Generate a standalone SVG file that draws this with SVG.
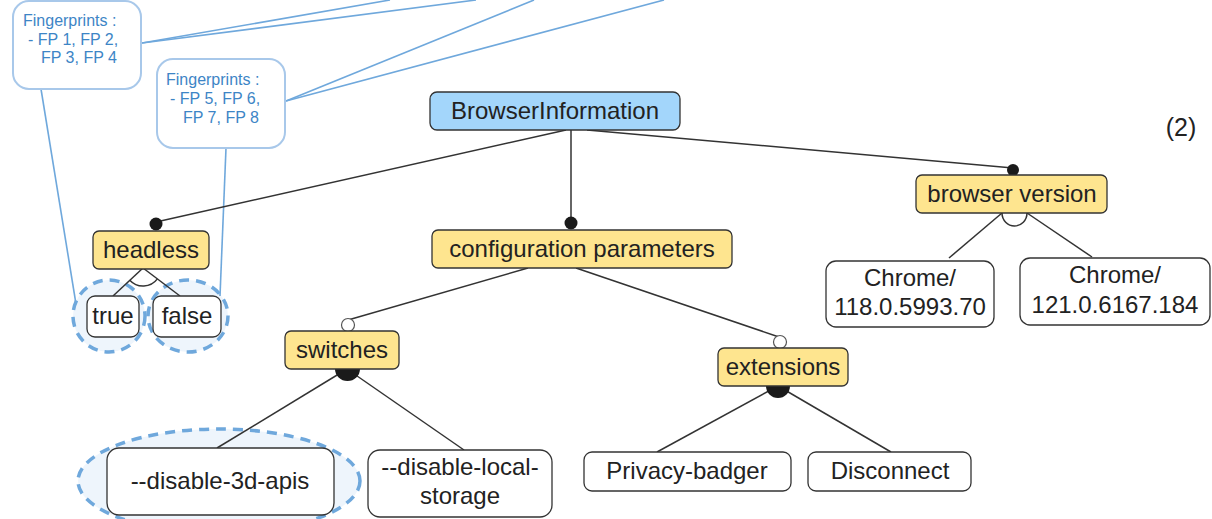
<svg xmlns="http://www.w3.org/2000/svg" width="1212" height="519" viewBox="0 0 1212 519">
  <style>
    .lbl { font-family: "Liberation Sans", Arial, sans-serif; font-size: 24px; fill: #222; text-anchor: middle; }
    .note { font-family: "Liberation Sans", Arial, sans-serif; font-size: 16px; fill: #3d85c6; }
    .feat { fill: #fee58f; stroke: #333; stroke-width: 1.3; }
    .root { fill: #a3d6fb; stroke: #333; stroke-width: 1.3; }
    .leaf { fill: #fff; stroke: #333; stroke-width: 1.3; }
    .callout { fill: #fff; stroke: #a8c8ea; stroke-width: 2; }
    .mark { fill: #eef5fc; stroke: #6fa8dc; stroke-width: 3.5; stroke-dasharray: 10 7; }
    .edge { stroke: #333; stroke-width: 1.5; fill: none; }
    .link { stroke: #6fa8dc; stroke-width: 1.6; fill: none; }
    .dot { fill: #1a1a1a; }
    .opt { fill: #fff; stroke: #555; stroke-width: 1.2; }
  </style>

  <!-- selection highlights -->
  <g id="highlights">
    <ellipse class="mark" cx="109" cy="316" rx="36" ry="36"/>
    <ellipse class="mark" cx="188" cy="316" rx="40" ry="36"/>
    <ellipse class="mark" cx="219" cy="481" rx="141" ry="52"/>
  </g>

  <!-- connectors -->
  <g id="connectors">
    <!-- fingerprint annotation links -->
    <line class="link" x1="142" y1="43" x2="390" y2="0"/>
    <line class="link" x1="142" y1="43" x2="476" y2="0"/>
    <line class="link" x1="286" y1="101" x2="534" y2="0"/>
    <line class="link" x1="286" y1="101" x2="664" y2="0"/>
    <line class="link" x1="41" y1="89" x2="76" y2="304"/>
    <line class="link" x1="226" y1="148" x2="220" y2="296"/>

    <!-- root to features -->
    <line class="edge" x1="566" y1="130" x2="156" y2="222"/>
    <line class="edge" x1="571" y1="130" x2="571" y2="222"/>
    <line class="edge" x1="587" y1="130" x2="1013" y2="168"/>
    <circle class="dot" cx="156" cy="224" r="6.5"/>
    <circle class="dot" cx="571" cy="223" r="6.5"/>
    <circle class="dot" cx="1013" cy="170" r="6"/>

    <!-- headless: alternative group -->
    <line class="edge" x1="143" y1="268" x2="113" y2="296"/>
    <line class="edge" x1="143" y1="268" x2="180" y2="296"/>
    <path class="edge" d="M129.8,280.3 A18,18 0 0 0 157.4,278.9" stroke-width="1.1"/>

    <!-- browser version: alternative group -->
    <line class="edge" x1="1002" y1="213" x2="949" y2="258"/>
    <line class="edge" x1="1027" y1="213" x2="1092" y2="257"/>
    <path class="edge" d="M1002,213 A12.5,13 0 0 0 1027,213" stroke-width="1.1"/>

    <!-- configuration parameters: optional children -->
    <line class="edge" x1="528" y1="268" x2="348" y2="320"/>
    <line class="edge" x1="576" y1="268" x2="779" y2="337"/>
    <circle class="opt" cx="348" cy="325" r="6.5"/>
    <circle class="opt" cx="780" cy="342" r="6.5"/>

    <!-- switches: or group -->
    <line class="edge" x1="347" y1="369" x2="217" y2="448"/>
    <line class="edge" x1="347" y1="369" x2="464" y2="450"/>
    <path class="dot" d="M335,369 A12.5,12 0 0 0 360,369 Z"/>

    <!-- extensions: or group -->
    <line class="edge" x1="778" y1="386" x2="657" y2="452"/>
    <line class="edge" x1="778" y1="386" x2="891" y2="452"/>
    <path class="dot" d="M766,386 A12,12 0 0 0 790,386 Z"/>
  </g>

  <!-- annotation notes -->
  <g id="note-fp1-4">
    <rect class="callout" x="13" y="1" width="128" height="88" rx="16"/>
    <text class="note" x="23" y="26">Fingerprints :</text>
    <text class="note" x="28" y="45">- FP 1, FP 2,</text>
    <text class="note" x="41" y="63">FP 3, FP 4</text>
  </g>
  <g id="note-fp5-8">
    <rect class="callout" x="157" y="59" width="128" height="89" rx="16"/>
    <text class="note" x="166" y="85">Fingerprints :</text>
    <text class="note" x="170" y="104">- FP 5, FP 6,</text>
    <text class="note" x="183" y="123">FP 7, FP 8</text>
  </g>

  <!-- feature nodes -->
  <g id="browser-information">
    <rect class="root" x="430" y="92" width="250" height="38" rx="7"/>
    <text class="lbl" x="555" y="119">BrowserInformation</text>
  </g>
  <g id="headless">
    <rect class="feat" x="93" y="231" width="116" height="38" rx="6"/>
    <text class="lbl" x="151" y="258">headless</text>
  </g>
  <g id="headless-true">
    <rect class="leaf" x="87" y="296" width="52" height="41" rx="8"/>
    <text class="lbl" x="113" y="324">true</text>
  </g>
  <g id="headless-false">
    <rect class="leaf" x="153" y="296" width="68" height="41" rx="8"/>
    <text class="lbl" x="187" y="324">false</text>
  </g>
  <g id="configuration-parameters">
    <rect class="feat" x="432" y="230" width="300" height="38" rx="6"/>
    <text class="lbl" x="582" y="257">configuration parameters</text>
  </g>
  <g id="browser-version">
    <rect class="feat" x="916" y="175" width="191" height="38" rx="6"/>
    <text class="lbl" x="1012" y="202">browser version</text>
  </g>
  <g id="chrome-118">
    <rect class="leaf" x="826" y="261" width="168" height="66" rx="10"/>
    <text class="lbl" x="910" y="286">Chrome/</text>
    <text class="lbl" x="910" y="315">118.0.5993.70</text>
  </g>
  <g id="chrome-121">
    <rect class="leaf" x="1020" y="258" width="190" height="67" rx="10"/>
    <text class="lbl" x="1115" y="283">Chrome/</text>
    <text class="lbl" x="1115" y="313">121.0.6167.184</text>
  </g>
  <g id="switches">
    <rect class="feat" x="285" y="331" width="114" height="38" rx="6"/>
    <text class="lbl" x="342" y="358">switches</text>
  </g>
  <g id="extensions">
    <rect class="feat" x="718" y="348" width="130" height="38" rx="6"/>
    <text class="lbl" x="783" y="375">extensions</text>
  </g>
  <g id="disable-3d-apis">
    <rect class="leaf" x="107" y="448" width="227" height="67" rx="12"/>
    <text class="lbl" x="220" y="489">--disable-3d-apis</text>
  </g>
  <g id="disable-local-storage">
    <rect class="leaf" x="368" y="450" width="184" height="67" rx="12"/>
    <text class="lbl" x="460" y="475">--disable-local-</text>
    <text class="lbl" x="460" y="504">storage</text>
  </g>
  <g id="privacy-badger">
    <rect class="leaf" x="584" y="452" width="207" height="39" rx="8"/>
    <text class="lbl" x="687" y="479">Privacy-badger</text>
  </g>
  <g id="disconnect">
    <rect class="leaf" x="808" y="452" width="163" height="39" rx="8"/>
    <text class="lbl" x="890" y="479">Disconnect</text>
  </g>

  <text class="lbl" x="1181" y="136" style="font-size:25px">(2)</text>
</svg>
